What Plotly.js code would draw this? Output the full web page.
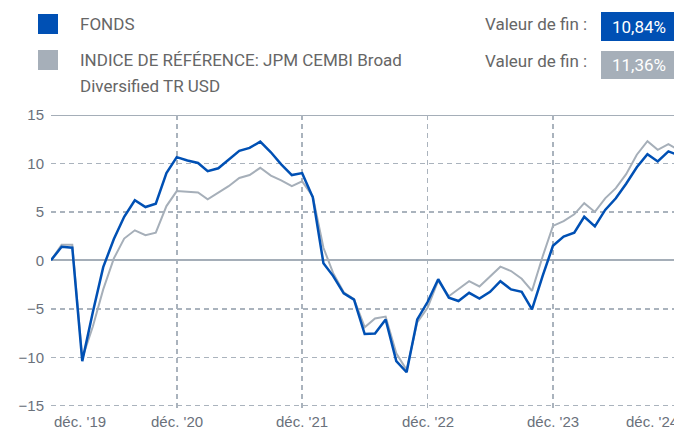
<!DOCTYPE html>
<html><head><meta charset="utf-8">
<script src="https://cdn.plot.ly/plotly-3.0.1.min.js"></script>
<style>html,body{margin:0;padding:0;background:#fff;overflow:hidden}#chart{width:674px;height:429px}</style>
</head><body><div id="chart"></div>
<script>
// ---- data ----
const months = ['2019-12-01',
  '2020-01-01','2020-02-01','2020-03-01','2020-04-01','2020-05-01','2020-06-01','2020-07-01','2020-08-01','2020-09-01','2020-10-01','2020-11-01','2020-12-01',
  '2021-01-01','2021-02-01','2021-03-01','2021-04-01','2021-05-01','2021-06-01','2021-07-01','2021-08-01','2021-09-01','2021-10-01','2021-11-01','2021-12-01',
  '2022-01-01','2022-02-01','2022-03-01','2022-04-01','2022-05-01','2022-06-01','2022-07-01','2022-08-01','2022-09-01','2022-10-01','2022-11-01','2022-12-01',
  '2023-01-01','2023-02-01','2023-03-01','2023-04-01','2023-05-01','2023-06-01','2023-07-01','2023-08-01','2023-09-01','2023-10-01','2023-11-01','2023-12-01',
  '2024-01-01','2024-02-01','2024-03-01','2024-04-01','2024-05-01','2024-06-01','2024-07-01','2024-08-01','2024-09-01','2024-10-01','2024-11-01','2024-12-01'];
const fundName = 'FONDS';
const benchNameLines = ['INDICE DE RÉFÉRENCE: JPM CEMBI Broad', 'Diversified TR USD'];
const fundValues = [0,
  1.4, 1.3, -10.4, -5.3, -0.7, 2.2, 4.5, 6.2, 5.5, 5.85, 9.0, 10.65,
  10.3, 10.05, 9.2, 9.5, 10.35, 11.3, 11.6, 12.25, 11.15, 9.9, 8.8, 9.0,
  6.5, -0.3, -1.6, -3.4, -4.05, -7.6, -7.55, -6.1, -10.4, -11.55, -6.1, -4.3,
  -1.95, -3.85, -4.2, -3.35, -3.95, -3.25, -2.15, -3.0, -3.25, -5.05, -1.6, 1.5,
  2.45, 2.85, 4.5, 3.5, 5.2, 6.4, 7.9, 9.6, 10.95, 10.2, 11.25, 10.84];
const benchValues = [0,
  1.6, 1.6, -10.1, -6.8, -3.0, 0.2, 2.25, 3.1, 2.6, 2.85, 5.6, 7.15,
  7.1, 7.0, 6.3, 7.0, 7.65, 8.5, 8.8, 9.55, 8.75, 8.25, 7.65, 8.15,
  6.6, 1.3, -1.3, -3.3, -4.0, -6.9, -6.0, -5.8, -9.6, -11.3, -6.4, -4.9,
  -2.1, -3.7, -3.0, -2.15, -2.7, -1.7, -0.65, -1.1, -1.9, -3.15, 0.4, 3.55,
  4.05, 4.75, 5.9, 5.0, 6.4, 7.45, 8.9, 10.9, 12.3, 11.4, 12.0, 11.36];
const finalLabel = 'Valeur de fin :';
const fundFinal = '10,84%';
const benchFinal = '11,36%';
const yTicks = [-15, -10, -5, 0, 5, 10, 15];
const xTickVals = ['2019-12-01','2020-12-01','2021-12-01','2022-12-01','2023-12-01','2024-12-01'];
const xTickText = ["déc. '19","déc. '20","déc. '21","déc. '22","déc. '23","déc. '24"];

// ---- style ----
const BLUE = '#0050b4', GREY = '#a6afb9', TEXT = '#666666', AXTXT = '#6a717b';
const GRID = '#aab3bd', SOLID = '#a5aeb8';
const W = 674, H = 429, L = 51, R = 0, T = 115, B = 17;
const pw = W - L - R, ph = H - T - B;
const fx = p => (p - L) / pw;
const fy = p => (H - B - p) / ph;
const LFONT = {family: 'Roboto, sans-serif', size: 17, color: TEXT};
const AFONT = {family: 'Liberation Sans, Arial, sans-serif', size: 15, color: AXTXT};

function txt(text, px, py, xanchor, font) {
  return {text: text, xref: 'paper', yref: 'paper', x: fx(px), y: fy(py),
    xanchor: xanchor, yanchor: 'middle', showarrow: false, font: font, borderpad: 0};
}
function rect(x0, y0, x1, y1, color) {
  return {type: 'rect', xref: 'paper', yref: 'paper', x0: fx(x0), x1: fx(x1), y0: fy(y0), y1: fy(y1),
    fillcolor: color, line: {width: 0}, layer: 'above'};
}

const annotations = [
  txt(fundName, 79, 24, 'left', LFONT),
  txt(benchNameLines[0], 79, 60, 'left', LFONT),
  txt(benchNameLines[1], 79, 86, 'left', LFONT),
  txt(finalLabel, 484, 24, 'left', LFONT),
  txt(finalLabel, 484, 61, 'left', LFONT),
  txt(fundFinal, 611, 27, 'left', Object.assign({}, LFONT, {color: '#ffffff'})),
  txt(benchFinal, 611, 65, 'left', Object.assign({}, LFONT, {color: '#ffffff'}))
];
xTickText.forEach((t, i) => {
  const a = {text: t, yref: 'paper', y: 0, yanchor: 'top', yshift: 0, showarrow: false, font: AFONT, borderpad: 0};
  if (i === xTickText.length - 1) { a.xref = 'paper'; a.x = fx(678.7); a.xanchor = 'right'; }
  else { a.xref = 'x'; a.x = xTickVals[i]; a.xanchor = i === 0 ? 'left' : 'center'; if (i === 0) a.xshift = 2; }
  annotations.push(a);
});

const shapes = [
  rect(38, 14, 58, 34, BLUE),
  rect(38, 50, 58, 70, GREY),
  rect(601, 12, 700, 41, BLUE),
  rect(601, 51, 700, 79, GREY),
  {type: 'line', xref: 'paper', yref: 'y', x0: 0, x1: 1, y0: 15, y1: 15, line: {color: SOLID, width: 2}, layer: 'below'}
];

const traces = [
  {x: months, y: benchValues, type: 'scatter', mode: 'lines', name: benchNameLines.join(' '),
   line: {color: GREY, width: 2}, hoverinfo: 'skip'},
  {x: months, y: fundValues, type: 'scatter', mode: 'lines', name: fundName,
   line: {color: BLUE, width: 2.5}, hoverinfo: 'skip'}
];

const layout = {
  width: W, height: H,
  margin: {l: L, r: R, t: T, b: B, pad: 0},
  paper_bgcolor: '#fff', plot_bgcolor: '#fff',
  showlegend: false,
  xaxis: {type: 'date', range: ['2019-12-01', '2024-11-17 07:00'],
    tickvals: xTickVals, showticklabels: false, ticks: '',
    showgrid: true, gridcolor: GRID, gridwidth: 1.5, griddash: '5px,4px',
    zeroline: false, showline: false, fixedrange: true},
  yaxis: {range: [-15.65, 15], tickvals: yTicks, ticks: '',
    tickfont: AFONT, ticklabelstandoff: 6,
    showgrid: true, gridcolor: GRID, gridwidth: 1.5, griddash: '5px,4px',
    zeroline: true, zerolinecolor: SOLID, zerolinewidth: 2, showline: false, fixedrange: true},
  annotations: annotations,
  shapes: shapes
};

Plotly.newPlot('chart', traces, layout, {displayModeBar: false, staticPlot: true});
</script>
</body></html>
